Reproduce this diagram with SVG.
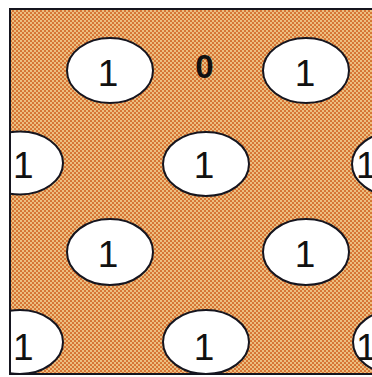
<svg xmlns="http://www.w3.org/2000/svg" width="372" height="377" viewBox="0 0 372 377">
<style>
.cell{fill:#fff;stroke:#15151f;stroke-width:2}
.one{font-family:"Liberation Sans",Arial,sans-serif;font-size:37px;fill:#111}
.zero{font-family:"Liberation Sans",Arial,sans-serif;font-size:33px;font-weight:bold;fill:#111}
</style>
<defs>
<pattern id="dots" width="4" height="4" patternUnits="userSpaceOnUse">
<rect width="4" height="4" fill="#dc8238"/>
<circle cx="1" cy="1" r="0.9" fill="#f4dca2"/>
<circle cx="3" cy="3" r="0.9" fill="#f4dca2"/>
<circle cx="3" cy="1" r="0.6" fill="#c24a2c"/>
<circle cx="1" cy="3" r="0.6" fill="#c24a2c"/>
</pattern>
<clipPath id="frameClip"><rect x="10" y="9" width="372" height="365"/></clipPath>
</defs>
<rect x="0" y="0" width="372" height="377" fill="#fff"/>
<rect id="frame" x="10" y="9" width="380" height="365" fill="url(#dots)" stroke="#15151f" stroke-width="2"/>
<g clip-path="url(#frameClip)">
<g id="n1"><ellipse class="cell" cx="110" cy="70.5" rx="43" ry="32.5"/><text class="one" x="108" y="86" text-anchor="middle">1</text></g>
<g id="n2"><text class="zero" x="204.5" y="78" text-anchor="middle">0</text></g>
<g id="n3"><ellipse class="cell" cx="306" cy="70.5" rx="43" ry="32.5"/><text class="one" x="305" y="86" text-anchor="middle">1</text></g>
<g id="n4"><ellipse class="cell" cx="20" cy="163" rx="43" ry="31.5"/><text class="one" x="13" y="178">1</text></g>
<g id="n5"><ellipse class="cell" cx="206" cy="164" rx="43" ry="32"/><text class="one" x="204" y="178" text-anchor="middle">1</text></g>
<g id="n6"><ellipse class="cell" cx="395" cy="164" rx="43" ry="32"/><text class="one" x="356" y="178">1</text></g>
<g id="n7"><ellipse class="cell" cx="110" cy="252" rx="43" ry="33"/><text class="one" x="108" y="267" text-anchor="middle">1</text></g>
<g id="n8"><ellipse class="cell" cx="306" cy="252" rx="43" ry="33"/><text class="one" x="305" y="267" text-anchor="middle">1</text></g>
<g id="n9"><ellipse class="cell" cx="20" cy="342" rx="43" ry="32"/><text class="one" x="13" y="360">1</text></g>
<g id="n10"><ellipse class="cell" cx="206" cy="342" rx="43" ry="32"/><text class="one" x="204" y="360" text-anchor="middle">1</text></g>
<g id="n11"><ellipse class="cell" cx="396" cy="342" rx="43" ry="32"/><text class="one" x="356" y="360">1</text></g>
</g>
<g id="connectors"/>
<line x1="10" y1="9" x2="10" y2="374" stroke="#15151f" stroke-width="2"/>
<line x1="10" y1="374" x2="372" y2="374" stroke="#15151f" stroke-width="2"/>
</svg>
